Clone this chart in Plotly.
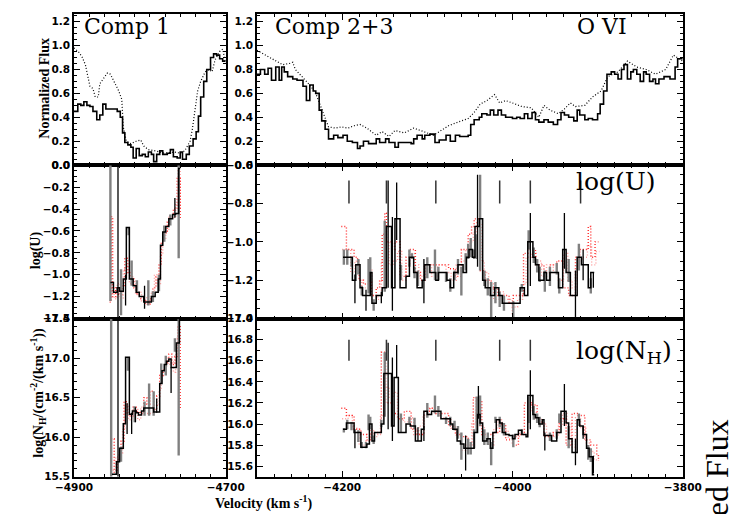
import plotly.graph_objects as go

W, H = 734, 514

# ---------------- DATA ----------------
# Top row: normalized flux (solid = step, dotted = comparison)
c1_flux_v = [-4900,-4895,-4891,-4887,-4883,-4879,-4875,-4870,-4866,-4862,-4858,-4843,-4839,-4836,-4833,-4829,-4825,-4822,-4818,-4814,
             -4810,-4806,-4802,-4798,-4795,-4791,-4787,-4783,-4777,-4773,-4769,-4764,-4760,-4757,-4752,-4748,-4743,-4739,-4736,-4733,
             -4729,-4725,-4720,-4716,-4712,-4708,-4704,-4700]
c1_flux = [0.45,0.51,0.50,0.53,0.50,0.49,0.45,0.38,0.42,0.51,0.47,0.45,0.40,0.27,0.19,0.17,0.15,0.06,0.14,0.08,
           0.09,0.07,0.11,0.09,0.03,0.09,0.12,0.09,0.10,0.13,0.07,0.06,0.11,0.05,0.09,0.16,0.22,0.28,0.41,0.57,
           0.70,0.80,0.90,0.93,0.92,0.89,0.87,0.87]
c1_dot_v = [-4900,-4893,-4889,-4885,-4879,-4875,-4872,-4868,-4866,-4862,-4856,-4852,-4847,-4841,-4837,-4835,-4831,-4825,-4818,-4812,
            -4808,-4802,-4793,-4781,-4768,-4760,-4754,-4747,-4744,-4741,-4737,-4733,-4727,-4722,-4718,-4714,-4708,-4704,-4700]
c1_dot = [0.98,0.94,0.90,0.84,0.66,0.64,0.57,0.57,0.68,0.72,0.77,0.76,0.70,0.62,0.55,0.32,0.20,0.18,0.20,0.21,
          0.16,0.13,0.12,0.10,0.11,0.10,0.12,0.20,0.30,0.45,0.62,0.70,0.78,0.80,0.78,0.88,0.95,0.97,0.85]

c23_flux_v = [-4300,-4296,-4291,-4287,-4283,-4278,-4274,-4271,-4268,-4264,-4258,-4253,-4246,-4242,-4238,-4234,-4231,-4227,-4224,-4220,
              -4216,-4210,-4205,-4199,-4194,-4188,-4182,-4179,-4175,-4169,-4160,-4156,-4149,-4145,-4138,-4134,-4129,-4119,-4116,-4112,
              -4106,-4103,-4097,-4091,-4086,-4078,-4073,-4067,-4062,-4057,-4052,-4049,-4045,-4039,-4036,-4030,-4026,-4022,-4017,-4013,
              -4008,-4000,-3995,-3991,-3986,-3982,-3977,-3973,-3969,-3963,-3958,-3952,-3947,-3943,-3939,-3934,-3928,-3924,-3921,-3915,
              -3911,-3906,-3900,-3897,-3893,-3889,-3884,-3880,-3876,-3872,-3869,-3865,-3861,-3858,-3854,-3850,-3846,-3843,-3839,-3835,
              -3832,-3828,-3822,-3815,-3809,-3806,-3800]
c23_flux = [0.76,0.80,0.76,0.81,0.71,0.82,0.71,0.82,0.78,0.74,0.72,0.71,0.66,0.54,0.67,0.62,0.60,0.46,0.37,0.30,
            0.22,0.25,0.23,0.25,0.20,0.19,0.14,0.16,0.20,0.18,0.22,0.19,0.22,0.19,0.15,0.19,0.19,0.18,0.22,0.25,
            0.22,0.25,0.26,0.19,0.21,0.25,0.20,0.25,0.24,0.24,0.25,0.34,0.38,0.40,0.43,0.42,0.46,0.42,0.46,0.42,
            0.40,0.39,0.40,0.39,0.43,0.39,0.44,0.38,0.36,0.38,0.36,0.34,0.38,0.44,0.42,0.40,0.37,0.46,0.42,0.38,
            0.39,0.38,0.43,0.51,0.62,0.76,0.78,0.76,0.72,0.80,0.84,0.72,0.78,0.80,0.76,0.70,0.78,0.76,0.70,0.72,
            0.68,0.72,0.74,0.72,0.82,0.89,0.89]
c23_dot_v = [-4300,-4290,-4279,-4270,-4262,-4258,-4255,-4245,-4238,-4231,-4223,-4216,-4208,-4201,-4193,-4186,-4179,-4171,-4160,-4153,
             -4145,-4138,-4127,-4116,-4104,-4093,-4086,-4075,-4064,-4052,-4045,-4038,-4030,-4021,-4015,-4008,-4000,-3989,-3978,-3969,
             -3963,-3956,-3946,-3939,-3932,-3926,-3915,-3906,-3896,-3888,-3876,-3865,-3854,-3843,-3832,-3820,-3811,-3806,-3800]
c23_dot = [0.96,0.92,0.88,0.84,0.85,0.86,0.80,0.72,0.67,0.60,0.45,0.32,0.31,0.32,0.31,0.33,0.34,0.31,0.25,0.28,
           0.24,0.29,0.27,0.31,0.28,0.25,0.28,0.33,0.36,0.39,0.44,0.51,0.54,0.59,0.52,0.54,0.52,0.49,0.48,0.40,
           0.50,0.46,0.43,0.47,0.52,0.49,0.50,0.57,0.62,0.74,0.78,0.87,0.82,0.80,0.76,0.80,0.92,0.90,0.87]

# Middle row: log(U)
c1_u_v = [-4852,-4848,-4843,-4840,-4835,-4831,-4827,-4822,-4818,-4814,-4808,-4798,-4793,-4789,-4786,-4783,-4779,-4775,-4770,-4766,-4762,-4760]
c1_u = [-1.07,-1.16,-1.12,-1.15,-1.04,-0.57,-1.04,-1.10,-1.16,-1.20,-1.25,-1.20,-1.16,-1.04,-0.73,-0.61,-0.56,-0.49,-0.45,-0.44,-0.03,-0.03]
c1_u_ra_v = [-4853,-4851,-4849,-4845,-4841,-4837,-4833,-4829,-4825,-4821,-4817,-4813,-4806,-4800,-4796,-4792,-4788,-4785,-4781,-4777,-4773,-4769,-4764,-4760]
c1_u_ra = [-1.25,-0.47,-1.20,-1.12,-1.18,-1.10,-0.85,-0.98,-1.02,-1.12,-1.18,-1.22,-1.27,-1.22,-1.12,-1.02,-0.90,-0.70,-0.62,-0.52,-0.46,-0.40,-0.12,-0.50]
c1_u_rb_v = [-4851,-4847,-4843,-4839,-4835,-4831,-4827,-4823,-4819,-4815,-4811,-4804,-4798,-4794,-4790,-4786,-4783,-4779,-4775,-4771,-4766,-4763,-4760]
c1_u_rb = [-1.12,-1.22,-1.08,-1.22,-0.95,-0.92,-1.08,-1.05,-1.18,-1.16,-1.24,-1.20,-1.16,-1.00,-1.08,-0.82,-0.68,-0.60,-0.46,-0.48,-0.36,-0.05,-0.40]
c1_u_eg_v = [-4852,-4838,-4828,-4824,-4817,-4802,-4796,-4788,-4781,-4773,-4762]
c1_u_eg_lo = [-1.24,-1.37,-0.64,-1.10,-1.15,-1.28,-1.25,-1.15,-0.70,-0.55,-0.85]
c1_u_eg_hi = [0.0,-0.95,-0.57,-0.87,-1.05,-1.05,-1.15,-1.00,-0.55,-0.45,0.0]
c1_u_ek_v = [-4842,-4832,-4807,-4767]
c1_u_ek_lo = [-1.45,-1.28,-1.31,-0.48]
c1_u_ek_hi = [0.0,-1.00,-1.10,-0.30]

c23_u_v = [-4199,-4188,-4184,-4179,-4176,-4167,-4165,-4160,-4153,-4148,-4142,-4138,-4132,-4125,-4121,-4116,-4112,-4106,-4103,-4097,
           -4090,-4087,-4077,-4073,-4069,-4064,-4058,-4054,-4051,-4047,-4044,-4039,-4035,-4032,-4026,-4021,-4016,-4012,-3991,-3986,
           -3982,-3976,-3973,-3969,-3963,-3960,-3956,-3946,-3941,-3937,-3932,-3924,-3919,-3911,-3908,-3904]
c23_u = [-1.08,-1.20,-1.12,-1.24,-1.28,-1.16,-1.32,-1.28,-1.24,-0.92,-1.24,-0.88,-1.24,-1.18,-1.08,-1.16,-1.24,-1.20,-1.12,-1.16,
         -1.20,-1.16,-1.20,-1.24,-1.16,-1.12,-1.16,-1.08,-1.04,-1.08,-0.92,-0.88,-1.20,-1.24,-1.28,-1.24,-1.28,-1.32,-1.24,-1.28,
         -1.00,-1.08,-1.12,-1.20,-1.16,-1.20,-1.16,-1.24,-1.04,-1.16,-1.28,-1.08,-1.12,-1.24,-1.16,-1.16]
c23_u_ra_v = [-4201,-4195,-4186,-4182,-4180,-4175,-4169,-4166,-4160,-4156,-4153,-4150,-4148,-4141,-4138,-4132,-4125,-4121,-4114,-4108,
              -4103,-4075,-4067,-4060,-4052,-4048,-4045,-4038,-4032,-4025,-4017,-4004,-4000,-3999,-3987,-3982,-3973,-3963,-3956,-3948,
              -3941,-3934,-3926,-3921,-3911,-3908,-3903,-3899]
c23_u_ra = [-0.92,-1.04,-1.08,-1.12,-1.20,-1.22,-1.20,-1.28,-1.24,-1.20,-0.96,-0.85,-1.00,-1.04,-1.00,-1.18,-1.08,-1.04,-1.16,-1.20,
            -1.12,-1.14,-1.18,-1.04,-0.96,-0.92,-0.88,-1.15,-1.20,-1.24,-1.28,-1.32,-1.38,-1.28,-1.06,-1.04,-1.12,-1.16,-1.12,-1.10,
            -1.24,-1.28,-1.08,-1.04,-0.92,-1.08,-1.00,-1.00]
c23_u_rb_v = [-4200,-4190,-4185,-4180,-4177,-4168,-4165,-4158,-4154,-4150,-4145,-4140,-4135,-4130,-4125,-4120,-4115,-4110,-4104,-4095,
              -4088,-4078,-4072,-4066,-4060,-4055,-4050,-4046,-4042,-4037,-4033,-4028,-4022,-4015,-4010,-4000,-3994,-3988,-3984,-3978,
              -3972,-3966,-3960,-3952,-3946,-3940,-3935,-3930,-3924,-3918,-3912,-3907,-3902,-3898]
c23_u_rb = [-1.04,-1.16,-1.10,-1.20,-1.24,-1.14,-1.28,-1.30,-1.10,-1.00,-1.12,-1.10,-1.05,-1.20,-1.12,-1.06,-1.12,-1.18,-1.12,-1.18,
            -1.12,-1.16,-1.20,-1.12,-1.10,-1.04,-1.00,-0.95,-0.90,-1.10,-1.16,-1.22,-1.30,-1.26,-1.30,-1.34,-1.30,-1.22,-1.08,-1.06,
            -1.10,-1.18,-1.12,-1.16,-1.20,-1.06,-1.20,-1.24,-1.10,-1.08,-1.02,-1.12,-1.05,-1.05]
c23_u_eg_v = [-4198,-4194,-4189,-4181,-4177,-4169,-4167,-4163,-4150,-4131,-4121,-4118,-4115,-4111,-4100,-4091,-4087,-4078,-4073,-4068,
              -4064,-4060,-4055,-4052,-4049,-4045,-4042,-4038,-4033,-4029,-4025,-4020,-4015,-4010,-3999,-3989,-3981,-3975,-3971,-3968,
              -3962,-3956,-3948,-3945,-3934,-3922,-3908]
c23_u_eg_lo = [-1.12,-1.12,-1.13,-1.17,-1.28,-1.27,-1.21,-1.36,-1.26,-1.20,-1.13,-1.09,-1.19,-1.23,-1.19,-1.20,-1.20,-1.21,-1.26,-1.20,
               -1.17,-1.28,-1.15,-1.09,-1.08,-1.09,-1.09,-1.15,-1.23,-1.28,-1.40,-1.32,-1.34,-1.36,-1.41,-1.26,-1.04,-1.11,-1.16,-1.21,
               -1.26,-1.23,-1.17,-1.27,-1.21,-1.15,-1.27]
c23_u_eg_hi = [-1.04,-1.04,-1.08,-1.09,-1.23,-1.09,-1.08,-1.30,-0.89,-1.12,-1.04,-1.06,-1.13,-1.15,-1.08,-1.04,-1.13,-1.16,-1.19,-1.15,
               -1.09,-1.13,-1.06,-1.01,-0.98,-1.04,-0.96,-0.65,-1.15,-1.19,-1.21,-1.21,-1.26,-1.28,-1.31,-1.22,-0.94,-1.03,-1.09,-1.13,
               -1.15,-1.13,-1.11,-1.19,-1.09,-1.01,-1.19]
c23_u_ek_v = [-4185,-4172,-4154,-4146,-4141,-4136,-4104,-4041,-3979,-3939,-3926,-3917,-3905]
c23_u_ek_lo = [-1.32,-1.36,-1.32,-1.24,-1.36,-0.99,-1.32,-1.13,-1.23,-1.14,-1.41,-1.20,-1.24]
c23_u_ek_hi = [-1.17,-1.25,-1.26,-0.68,-0.87,-0.69,-1.09,-0.65,-0.85,-0.85,-1.15,-1.04,-1.16]
u_mark_v = [-4192,-4148,-4090,-4015,-3979,-3920]
u_mark_range = [-0.80,-0.68]

# Bottom row: log(N_H)
c1_n_v = [-4850,-4844,-4840,-4835,-4832,-4827,-4823,-4818,-4815,-4811,-4808,-4795,-4787,-4784,-4781,-4778,-4775,-4772,-4768,-4765,-4761,-4759]
c1_n = [15.53,15.69,15.86,16.17,17.01,16.29,16.33,16.31,16.28,16.33,16.37,16.32,16.68,16.84,16.92,16.96,16.99,16.88,16.88,17.19,17.50,17.50]
c1_n_ra_v = [-4851,-4847,-4843,-4838,-4834,-4830,-4826,-4822,-4818,-4813,-4808,-4804,-4800,-4795,-4791,-4787,-4783,-4779,-4775,-4771,-4767,-4763,-4760]
c1_n_ra = [15.98,15.55,15.72,15.95,16.45,16.30,16.25,16.38,16.32,16.30,16.50,16.42,16.58,16.35,16.52,16.78,16.82,16.95,17.05,16.92,17.02,17.42,16.35]
c1_n_rb_v = [-4849,-4845,-4841,-4836,-4833,-4828,-4824,-4819,-4816,-4812,-4807,-4796,-4788,-4785,-4782,-4778,-4776,-4772,-4769,-4766,-4762,-4760]
c1_n_rb = [15.58,15.75,15.80,16.10,16.40,16.22,16.28,16.35,16.22,16.38,16.30,16.40,16.60,16.78,16.88,17.00,16.92,16.95,16.82,17.25,17.45,17.45]
c1_n_eg_v = [-4851,-4838,-4829,-4820,-4807,-4801,-4795,-4785,-4779,-4767,-4762]
c1_n_eg_lo = [15.50,15.69,16.84,16.19,16.27,16.27,16.27,16.68,16.78,17.08,15.77]
c1_n_eg_hi = [17.50,15.88,17.00,16.39,16.45,16.68,16.58,16.93,17.03,17.25,17.50]
c1_n_ek_v = [-4842,-4830,-4824,-4819,-4791,-4772]
c1_n_ek_lo = [15.50,16.04,16.04,16.19,16.31,16.56]
c1_n_ek_hi = [17.50,16.43,16.31,16.38,16.49,16.88]

c23_n_v = [-4199,-4195,-4186,-4178,-4171,-4168,-4165,-4162,-4154,-4151,-4142,-4139,-4134,-4125,-4120,-4114,-4107,-4104,-4100,-4095,
           -4084,-4073,-4070,-4065,-4061,-4057,-4045,-4041,-4038,-4035,-4030,-4026,-4023,-4019,-4015,-4012,-4008,-4004,-4000,-3997,
           -3993,-3989,-3984,-3982,-3976,-3973,-3969,-3965,-3963,-3954,-3948,-3943,-3937,-3934,-3930,-3924,-3921,-3917,-3913,-3910,
           -3906,-3904]
c23_n = [15.95,16.01,15.92,15.78,15.81,16.00,15.84,15.92,16.00,16.48,15.98,16.44,15.92,16.00,15.98,15.84,15.95,16.12,16.09,16.12,
         16.05,16.00,15.95,15.84,15.81,15.77,15.92,16.09,16.01,15.84,15.86,15.77,15.92,16.04,16.01,15.92,15.90,15.89,15.86,15.90,
         15.94,15.90,15.88,16.27,16.09,16.06,16.00,16.04,15.89,15.84,15.92,16.12,16.01,15.86,15.73,16.04,15.98,15.90,15.77,15.69,
         15.52,15.52]
c23_n_ra_v = [-4201,-4195,-4186,-4178,-4171,-4166,-4158,-4154,-4149,-4141,-4134,-4127,-4119,-4112,-4104,-4097,-4090,-4082,-4075,-4067,
              -4060,-4052,-4046,-4041,-4036,-4023,-4015,-4008,-4000,-3993,-3986,-3978,-3971,-3963,-3952,-3945,-3937,-3930,-3923,-3915,
              -3908,-3901,-3899]
c23_n_ra = [16.15,16.08,15.95,15.90,15.85,15.92,15.92,16.68,16.20,16.10,16.05,16.12,15.95,15.90,16.12,16.15,16.10,16.10,15.98,15.90,
            15.88,15.80,16.25,16.22,15.90,15.92,16.00,15.85,15.80,15.90,16.20,16.18,16.02,15.88,15.92,16.05,15.80,16.10,16.08,15.85,
            15.80,15.70,15.65]
c23_n_rb_v = [-4200,-4193,-4188,-4180,-4172,-4167,-4163,-4158,-4155,-4150,-4145,-4140,-4135,-4128,-4122,-4116,-4110,-4105,-4098,-4092,
              -4085,-4078,-4072,-4066,-4060,-4055,-4048,-4043,-4038,-4033,-4028,-4022,-4017,-4012,-4005,-3998,-3992,-3986,-3982,-3977,
              -3972,-3966,-3960,-3952,-3946,-3941,-3936,-3931,-3926,-3920,-3914,-3909,-3904,-3900]
c23_n_rb = [16.05,16.08,15.96,15.80,15.84,15.95,15.88,15.90,16.08,16.35,16.25,16.30,16.05,16.02,16.06,15.90,15.98,16.08,16.15,16.10,
            16.06,16.04,15.96,15.88,15.75,15.80,16.00,16.25,15.98,15.88,15.80,15.95,16.04,15.94,15.86,15.88,15.92,15.92,16.20,16.12,
            16.05,16.00,15.90,15.88,15.98,16.10,16.00,15.78,16.06,15.96,15.82,15.74,15.66,15.66]
c23_n_eg_v = [-4198,-4194,-4189,-4181,-4177,-4172,-4169,-4167,-4163,-4154,-4150,-4131,-4121,-4115,-4100,-4091,-4087,-4078,-4073,-4068,
              -4064,-4060,-4052,-4049,-4045,-4042,-4038,-4033,-4029,-4025,-4020,-4015,-4010,-3999,-3989,-3981,-3975,-3971,-3968,-3956,
              -3948,-3945,-3934,-3922,-3911,-3908]
c23_n_eg_lo = [15.92,15.95,15.94,15.83,15.77,15.77,15.94,15.95,15.81,15.97,16.07,15.92,16.01,15.95,16.06,16.10,16.07,16.00,15.98,15.94,
               15.86,15.66,15.71,15.71,15.77,15.92,15.98,15.80,15.80,15.61,16.01,15.97,15.89,15.78,15.90,16.01,16.04,16.01,15.97,15.84,
               15.86,16.01,15.77,15.98,15.66,15.64]
c23_n_eg_hi = [15.96,16.04,16.02,15.94,15.83,15.83,16.09,16.07,15.89,16.04,16.68,16.10,16.07,16.06,16.20,16.27,16.17,16.07,16.07,16.03,
               15.98,15.92,15.86,15.83,15.95,16.26,16.27,15.95,15.92,15.83,16.07,16.07,16.01,15.90,15.95,16.26,16.17,16.10,16.07,15.92,
               15.95,16.10,15.98,16.10,15.80,15.77]
c23_n_ek_v = [-4185,-4146,-4141,-4136,-4111,-4104,-4055,-4040,-3979,-3962,-3939,-3926,-3917,-3905]
c23_n_ek_lo = [15.77,15.95,15.84,16.44,15.84,15.84,15.56,16.05,15.95,15.75,15.98,15.61,15.86,15.53]
c23_n_ek_hi = [15.95,16.77,16.63,16.75,15.97,15.98,15.89,16.36,16.51,15.92,16.38,15.86,15.98,15.70]
n_mark_v = [-4192,-4148,-4090,-4015,-3979]
n_mark_range = [16.60,16.80]

# Axis ranges and tick labels
x_ranges = [[-4900, -4700], [-4300, -3800]]
x_ticks = [[-4900, -4700], [-4200, -4000, -3800]]
y_ranges = [[[0, 1.265], [0, 1.265]], [[-1.4, 0], [-1.4, -0.6]], [[15.5, 17.5], [15.5, 17.0]]]
y_ticks = [
    [[0.0, 0.2, 0.4, 0.6, 0.8, 1.0, 1.2], [0.0, 0.2, 0.4, 0.6, 0.8, 1.0, 1.2]],
    [[-1.4, -1.2, -1.0, -0.8, -0.6, -0.4, -0.2, 0.0], [-1.4, -1.2, -1.0, -0.8, -0.6]],
    [[15.5, 16.0, 16.5, 17.0, 17.5], [15.6, 15.8, 16.0, 16.2, 16.4, 16.6, 16.8, 17.0]],
]
y_minor = [[0.05, 0.05], [0.05, 0.05], [0.1, 0.1]]

# ---------------- GEOMETRY ----------------
col_px = [(58, 218), (251, 700)]
row_px = [(8, 163), (163, 320), (320, 482)]

fig = go.Figure()


def ax_id(row, col):
    return row * 2 + col + 1


def xy_names(n):
    return ('x' if n == 1 else f'x{n}'), ('y' if n == 1 else f'y{n}')


def segs(v, lo, hi):
    xs, ys = [], []
    for a, b, c in zip(v, lo, hi):
        xs += [a, a, None]
        ys += [b, c, None]
    return xs, ys


def add(row, col, **kw):
    xa, ya = xy_names(ax_id(row, col))
    fig.add_trace(go.Scatter(xaxis=xa, yaxis=ya, showlegend=False, hoverinfo='skip', **kw))


def step(row, col, v, y, color, width, dash='solid'):
    add(row, col, x=v, y=y, mode='lines', line=dict(color=color, width=width, dash=dash, shape='hv'))


def bars(row, col, v, lo, hi, color, width):
    xs, ys = segs(v, lo, hi)
    add(row, col, x=xs, y=ys, mode='lines', line=dict(color=color, width=width))


RED = '#ff2a2a'
PINK = '#ff9c9c'
GRAY = '#808080'
DOTS = '1px,2px'

# Top row
add(0, 0, x=c1_dot_v, y=c1_dot, mode='lines', line=dict(color='black', width=1.2, dash=DOTS))
step(0, 0, c1_flux_v, c1_flux, 'black', 1.6)
add(0, 1, x=c23_dot_v, y=c23_dot, mode='lines', line=dict(color='black', width=1.2, dash=DOTS))
step(0, 1, c23_flux_v, c23_flux, 'black', 1.6)

# Middle row
step(1, 0, c1_u_rb_v, c1_u_rb, PINK, 1.4, DOTS)
step(1, 0, c1_u_ra_v, c1_u_ra, RED, 1.4, DOTS)
bars(1, 0, c1_u_eg_v, c1_u_eg_lo, c1_u_eg_hi, GRAY, 2.4)
bars(1, 0, c1_u_ek_v, c1_u_ek_lo, c1_u_ek_hi, 'black', 1.3)
step(1, 0, c1_u_v, c1_u, 'black', 1.5)

step(1, 1, c23_u_rb_v, c23_u_rb, PINK, 1.4, DOTS)
step(1, 1, c23_u_ra_v, c23_u_ra, RED, 1.4, DOTS)
bars(1, 1, c23_u_eg_v, c23_u_eg_lo, c23_u_eg_hi, GRAY, 2.4)
bars(1, 1, c23_u_ek_v, c23_u_ek_lo, c23_u_ek_hi, 'black', 1.3)
step(1, 1, c23_u_v, c23_u, 'black', 1.5)
bars(1, 1, u_mark_v, [u_mark_range[0]] * len(u_mark_v), [u_mark_range[1]] * len(u_mark_v), '#333333', 1.5)

# Bottom row
step(2, 0, c1_n_rb_v, c1_n_rb, PINK, 1.4, DOTS)
step(2, 0, c1_n_ra_v, c1_n_ra, RED, 1.4, DOTS)
bars(2, 0, c1_n_eg_v, c1_n_eg_lo, c1_n_eg_hi, GRAY, 2.4)
bars(2, 0, c1_n_ek_v, c1_n_ek_lo, c1_n_ek_hi, 'black', 1.3)
step(2, 0, c1_n_v, c1_n, 'black', 1.5)

step(2, 1, c23_n_rb_v, c23_n_rb, PINK, 1.4, DOTS)
step(2, 1, c23_n_ra_v, c23_n_ra, RED, 1.4, DOTS)
bars(2, 1, c23_n_eg_v, c23_n_eg_lo, c23_n_eg_hi, GRAY, 2.4)
bars(2, 1, c23_n_ek_v, c23_n_ek_lo, c23_n_ek_hi, 'black', 1.3)
step(2, 1, c23_n_v, c23_n, 'black', 1.5)
bars(2, 1, n_mark_v, [n_mark_range[0]] * len(n_mark_v), [n_mark_range[1]] * len(n_mark_v), '#333333', 1.5)

# ---------------- AXES ----------------
TICKFONT = dict(family='DejaVu Sans', size=10.5, color='black', weight='bold')


def lab(v, fmt):
    s = format(v, fmt).replace('-', '\u2212')
    if s == '\u22120.0':
        s = '0.0'
    return f'<b>{s}</b>'


layout_axes = {}
for r in range(3):
    for c in range(2):
        n = ax_id(r, c)
        xa, ya = xy_names(n)
        xkey = 'xaxis' if n == 1 else f'xaxis{n}'
        ykey = 'yaxis' if n == 1 else f'yaxis{n}'
        x0, x1 = col_px[c]
        t, b = row_px[r]
        common = dict(showline=True, linecolor='black', linewidth=1.5, mirror='allticks',
                      ticks='inside', ticklen=6, tickwidth=1, tickcolor='black',
                      showgrid=False, zeroline=False, tickfont=TICKFONT, fixedrange=True)
        layout_axes[xkey] = dict(common, domain=[x0 / W, x1 / W], range=x_ranges[c], anchor=ya,
                                 tickmode='array', tickvals=x_ticks[c],
                                 ticktext=[lab(v, '.0f') for v in x_ticks[c]],
                                 showticklabels=(r == 2),
                                 minor=dict(ticks='inside', ticklen=3, tickmode='linear',
                                            tick0=x_ranges[c][0], dtick=20, tickcolor='black'))
        layout_axes[ykey] = dict(common, domain=[1 - b / H, 1 - t / H], range=y_ranges[r][c], anchor=xa,
                                 tickmode='array', tickvals=y_ticks[r][c],
                                 ticktext=[lab(v, '.1f') for v in y_ticks[r][c]],
                                 minor=dict(ticks='inside', ticklen=3, tickmode='linear',
                                            tick0=y_ranges[r][c][0], dtick=y_minor[r][c], tickcolor='black'))

LBL = dict(family='DejaVu Serif', size=22, color='black')
TITLE = dict(family='Liberation Serif', size=14, color='black', weight='bold')


def ann(text, x, y, font, xanchor='left', yanchor='middle', angle=0):
    return dict(text=text, x=x / W, y=1 - y / H, xref='paper', yref='paper', showarrow=False,
                xanchor=xanchor, yanchor=yanchor, font=font, textangle=angle)


annotations = [
    ann('Comp 1', 66, 21, LBL),
    ann('Comp 2+3', 268, 21, LBL),
    ann('O VI', 586, 21, LBL),
    ann('log(U)', 585, 180, dict(family='DejaVu Serif', size=25, color='black')),
    ann('log(N<sub>H</sub>)', 585, 354, dict(family='DejaVu Serif', size=25, color='black')),
    ann('Normalized Flux', 26, 84, TITLE, 'center', 'middle', -90),
    ann('log(U)', 18, 250, TITLE, 'center', 'middle', -90),
    ann('log(N<sub>H</sub>/(cm<sup>-2</sup>/(km s<sup>-1</sup>))', 20, 396, TITLE, 'center', 'middle', -90),
    ann('Velocity (km s<sup>-1</sup>)', 258, 508, TITLE, 'center', 'middle'),
    ann('Normalized Flux', 736, 421, dict(family='Liberation Serif', size=32, color='black'), 'center', 'top', -90),
]

fig.update_layout(width=W, height=H, margin=dict(l=0, r=0, t=0, b=0),
                  paper_bgcolor='white', plot_bgcolor='white', showlegend=False,
                  annotations=annotations, **layout_axes)

fig.write_html('out.html')
